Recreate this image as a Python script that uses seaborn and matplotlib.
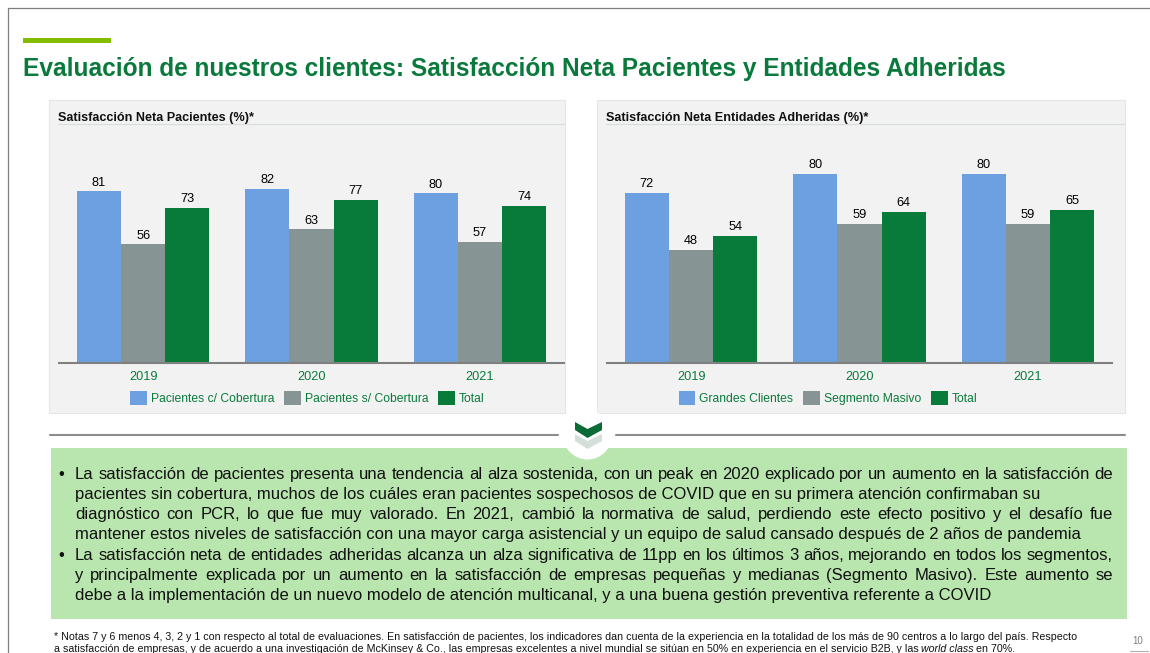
import matplotlib

matplotlib.use("Agg")
import matplotlib.pyplot as plt
import pandas as pd
import seaborn as sns
from matplotlib.patches import Circle, Polygon, Rectangle

W, H = 1150, 653
GREEN = "#0a7a3c"
BAR_COLORS = ["#6ca0e0", "#869594", "#087a3a"]

years = ["2019", "2020", "2021"]

pacientes_labels = ["Pacientes c/ Cobertura", "Pacientes s/ Cobertura", "Total"]
pacientes_con = [81, 82, 80]
pacientes_sin = [56, 63, 57]
pacientes_total = [73, 77, 74]

entidades_labels = ["Grandes Clientes", "Segmento Masivo", "Total"]
entidades_grandes = [72, 80, 80]
entidades_masivo = [48, 59, 59]
entidades_total = [54, 64, 65]

title = "Evaluación de nuestros clientes: Satisfacción Neta Pacientes y Entidades Adheridas"
left_title = "Satisfacción Neta Pacientes (%)*"
right_title = "Satisfacción Neta Entidades Adheridas (%)*"

# text, justify to right margin or not
body_lines = [
    ("La satisfacción de pacientes presenta una tendencia al alza sostenida, con un peak en 2020 explicado por un aumento en la satisfacción de", True),
    ("pacientes sin cobertura, muchos de los cuáles eran pacientes sospechosos de COVID que en su primera atención confirmaban su", False),
    ("diagnóstico con PCR, lo que fue muy valorado. En 2021, cambió la normativa de salud, perdiendo este efecto positivo y el desafío fue", True),
    ("mantener estos niveles de satisfacción con una mayor carga asistencial y un equipo de salud cansado después de 2 años de pandemia", False),
    ("La satisfacción neta de entidades adheridas alcanza un alza significativa de 11pp en los últimos 3 años, mejorando en todos los segmentos,", True),
    ("y principalmente explicada por un aumento en la satisfacción de empresas pequeñas y medianas (Segmento Masivo). Este aumento se", True),
    ("debe a la implementación de un nuevo modelo de atención multicanal, y a una buena gestión preventiva referente a COVID", False),
]
foot_1 = "* Notas 7 y 6 menos 4, 3, 2 y 1 con respecto al total de evaluaciones. En satisfacción de pacientes, los indicadores dan cuenta de la experiencia en la totalidad de los más de 90 centros a lo largo del país. Respecto"
foot_2 = "a satisfacción de empresas, y de acuerdo a una investigación de McKinsey & Co., las empresas excelentes a nivel mundial se sitúan en 50% en experiencia en el servicio B2B, y las"
foot_2_italic = "world class"
foot_2_end = "en 70%."

sns.set_theme(style="white")
plt.rcParams["font.family"] = ["Liberation Sans", "DejaVu Sans"]


def px_axes(fig, x0, y0, x1, y1):
    return fig.add_axes([x0 / W, 1 - y1 / H, (x1 - x0) / W, (y1 - y0) / H])


def draw_panel(fig, series_names, values, x0, x1, top, legend_x):
    rows = []
    for name, vals in zip(series_names, values):
        for year, v in zip(years, vals):
            rows.append({"year": year, "serie": name, "value": v})
    df = pd.DataFrame(rows)

    ax = px_axes(fig, x0, top, x1, 363)
    ax.patch.set_alpha(0)
    sns.barplot(
        data=df, x="year", y="value", hue="serie", palette=BAR_COLORS,
        width=0.788, gap=0, saturation=1, linewidth=0, ax=ax, legend=True,
    )
    ax.set_xlim(-0.5, 2.5)
    ax.set_ylim(0, 100)
    ax.set_xlabel("")
    ax.set_ylabel("")
    ax.set_yticks([])
    ax.tick_params(axis="x", length=0, pad=6, labelsize=9.2, labelcolor=GREEN)
    for c in ax.containers:
        ax.bar_label(c, padding=2, fontsize=9.2, color="black")
    sns.despine(ax=ax, left=True)
    ax.spines["bottom"].set_color("#808080")
    ax.spines["bottom"].set_linewidth(1.5)

    handles, labels = ax.get_legend_handles_labels()
    ax.get_legend().remove()
    fig.legend(
        handles, labels, ncol=3, frameon=False, loc="center",
        bbox_to_anchor=(legend_x / W, 1 - 398 / H), fontsize=8.7,
        labelcolor=GREEN, handlelength=1.4, handleheight=1.4,
        handletextpad=0.33, columnspacing=0.8, borderpad=0,
    )


def place_text(ax, renderer, x, y, text, target=None, **kw):
    """Write a line word by word, stretching the gaps if target right edge is given."""
    if target is None:
        t = ax.text(x, y, text, va="baseline", ha="left", **kw)
        return x + t.get_window_extent(renderer).width
    words = text.split(" ")
    probe = ax.text(0, 0, text, **kw)
    natural = probe.get_window_extent(renderer).width
    probe.remove()
    gap = (target - x - natural) / (len(words) - 1)
    space = ax.text(0, 0, "a a", **kw)
    sp = space.get_window_extent(renderer).width
    space.remove()
    a = ax.text(0, 0, "aa", **kw)
    sp -= a.get_window_extent(renderer).width
    a.remove()
    for w in words:
        t = ax.text(x, y, w, va="baseline", ha="left", **kw)
        x += t.get_window_extent(renderer).width + sp + gap
    return x


fig = plt.figure(figsize=(W / 100, H / 100), dpi=100, facecolor="white")

# slide furniture, in pixel coordinates
bg = fig.add_axes([0, 0, 1, 1])
bg.set_xlim(0, W)
bg.set_ylim(H, 0)
bg.axis("off")
renderer = fig.canvas.get_renderer()

bg.plot([7.5, 7.5, W], [H, 8, 8], color="#7f7f7f", lw=0.9)
bg.add_patch(Rectangle((23, 38), 88, 5, color="#84bd00", lw=0))
bg.text(23, 76, title, fontsize=17.65, fontweight="bold", color=GREEN, va="baseline")

for x0, x1, head in [(49, 565, left_title), (597, 1125, right_title)]:
    bg.add_patch(Rectangle((x0, 100), x1 - x0, 313, facecolor="#f2f2f2", edgecolor="#e6e6e6", lw=0.8))
    bg.plot([x0 + 9, x1 - 1], [124, 124], color="#d9dddd", lw=0.9)
    bg.text(x0 + 9, 120.5, head, fontsize=9.1, fontweight="bold", color="#111111", va="baseline")

bg.add_patch(Rectangle((51, 448), 1076, 171, color="#b9e5ae", lw=0))
bg.add_patch(Circle((587.5, 435), 24.5, color="white", lw=0, zorder=3))
bg.plot([50, 558], [435, 435], color="#8c8c8c", lw=1.5, zorder=4)
bg.plot([616, 1125], [435, 435], color="#8c8c8c", lw=1.5, zorder=4)
bg.add_patch(Polygon([(575, 434), (587.5, 441), (602, 434), (602, 441), (587.5, 449), (575, 441)], color="#d5dfda", lw=0, zorder=4))
bg.add_patch(Polygon([(575, 422), (587.5, 429), (602, 422), (602, 430), (587.5, 438), (575, 430)], color="#0a6b36", lw=0, zorder=5))

ys = [479, 499, 519, 539, 560, 580, 600]
for y, (line, justify) in zip(ys, body_lines):
    place_text(bg, renderer, 75, y, line, target=1113 if justify else None, fontsize=12, color="#111111")
for y in (479, 560):
    bg.text(58, y, "•", fontsize=12, color="#111111", va="baseline")

place_text(bg, renderer, 54, 640, foot_1, fontsize=7.7, color="#111111")
end = place_text(bg, renderer, 54, 652, foot_2, fontsize=7.7, color="#111111")
end = place_text(bg, renderer, end + 2.5, 652, foot_2_italic, fontsize=7.7, color="#111111", style="italic")
place_text(bg, renderer, end + 2.5, 652, foot_2_end, fontsize=7.7, color="#111111")

bg.text(1138, 641, "10", fontsize=7, color="#808080", va="center", ha="center")
bg.plot([1130, 1148], [651, 651], color="#b0b0b0", lw=0.8)

draw_panel(fig, pacientes_labels, [pacientes_con, pacientes_sin, pacientes_total], 59, 564, 151, 307)
draw_panel(fig, entidades_labels, [entidades_grandes, entidades_masivo, entidades_total], 607, 1112, 127, 828)

fig.savefig("out.png", dpi=100)
plt.close(fig)
